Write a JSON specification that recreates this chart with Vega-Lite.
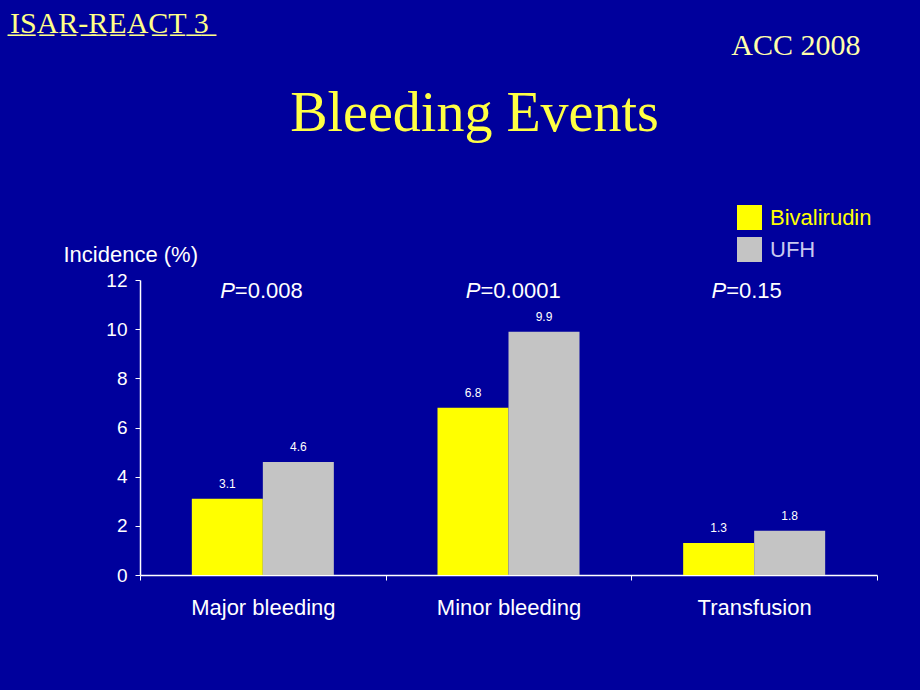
{
  "$schema": "https://vega.github.io/schema/vega-lite/v6.json",
  "background": "#00009c",
  "padding": {"left": 10, "top": 9, "right": 43, "bottom": 74},
  "title": {"text": "I̲S̲A̲R̲-̲R̲E̲A̲C̲T̲ ̲3̲", "anchor": "start", "font": "Liberation Serif", "fontSize": 30, "fontWeight": "normal", "color": "#ffff88", "dx": -53, "offset": -8},
  "datasets": {
    "bars": [
      {"category": "Major bleeding", "group": "Bivalirudin", "value": 3.1},
      {"category": "Major bleeding", "group": "UFH", "value": 4.6},
      {"category": "Minor bleeding", "group": "Bivalirudin", "value": 6.8},
      {"category": "Minor bleeding", "group": "UFH", "value": 9.9},
      {"category": "Transfusion", "group": "Bivalirudin", "value": 1.3},
      {"category": "Transfusion", "group": "UFH", "value": 1.8}
    ],
    "pvals": [
      {"category": "Major bleeding", "p": "P", "rest": "=0.008"},
      {"category": "Minor bleeding", "p": "P", "rest": "=0.0001"},
      {"category": "Transfusion", "p": "P", "rest": "=0.15"}
    ]
  },
  "vconcat": [
    {
      "title": {"text": "ACC 2008", "anchor": "end", "font": "Liberation Serif", "fontSize": 30, "fontWeight": "normal", "color": "#ffffaa", "dx": -17, "offset": 25},
      "vconcat": [
        {
          "title": {"text": "Bleeding Events", "anchor": "middle", "font": "Liberation Serif", "fontSize": 56, "fontWeight": "normal", "color": "#ffff44", "offset": 100, "dx": -34},
          "width": 737,
          "height": 295,
          "layer": [
            {
              "data": {"name": "bars"},
              "mark": {"type": "bar"},
              "encoding": {
                "x": {"field": "category", "type": "nominal", "sort": null,
                  "scale": {"paddingInner": 0, "paddingOuter": 0},
                  "axis": {"title": null, "labelAngle": 0, "labelFont": "Liberation Sans", "labelFontSize": 22, "labelColor": "#ffffff", "labelPadding": 17, "domainColor": "#ffffff", "domainWidth": 1.5, "tickColor": "#ffffff", "tickSize": 5, "tickBand": "extent", "grid": false}},
                "xOffset": {"field": "group", "type": "nominal", "sort": ["Bivalirudin", "UFH"], "scale": {"paddingInner": 0, "paddingOuter": 0.73}},
                "y": {"field": "value", "type": "quantitative",
                  "scale": {"domain": [0, 12], "nice": false},
                  "axis": {"title": "Incidence (%)", "values": [0, 2, 4, 6, 8, 10, 12], "grid": false, "labelFont": "Liberation Sans", "labelFontSize": 19, "labelColor": "#ffffff", "labelPadding": 8, "domainColor": "#ffffff", "domainWidth": 1.5, "tickColor": "#ffffff", "tickSize": 5,
                    "titleAngle": 0, "titleX": -77, "titleY": -26, "titleAlign": "left", "titleBaseline": "middle", "titleFont": "Liberation Sans", "titleFontSize": 22, "titleFontWeight": "normal", "titleColor": "#ffffff"}},
                "color": {"field": "group", "type": "nominal",
                  "scale": {"domain": ["Bivalirudin", "UFH"], "range": ["#ffff00", "#c4c4c4"]},
                  "legend": {"title": null, "orient": "none", "legendX": 597, "legendY": -75, "symbolType": "square", "symbolSize": 625, "symbolStrokeWidth": 0, "symbolOpacity": 1, "labelFont": "Liberation Sans", "labelFontSize": 22, "labelOffset": 8, "rowPadding": 7,
                    "encode": {"labels": {"update": {"fill": [{"test": "datum.value === 'UFH'", "value": "#c8c8f0"}, {"value": "#ffff00"}]}}}}}
              }
            },
            {
              "data": {"name": "bars"},
              "mark": {"type": "text", "font": "Liberation Sans", "fontSize": 12, "color": "#ffffff", "baseline": "bottom", "dy": -8},
              "encoding": {
                "x": {"field": "category", "type": "nominal", "sort": null},
                "xOffset": {"field": "group", "type": "nominal", "sort": ["Bivalirudin", "UFH"]},
                "y": {"field": "value", "type": "quantitative"},
                "text": {"field": "value", "type": "quantitative", "format": ".1f"}
              }
            },
            {
              "data": {"name": "pvals"},
              "mark": {"type": "text", "font": "Liberation Sans", "fontSize": 22, "fontStyle": "italic", "color": "#ffffff", "align": "right", "baseline": "middle", "dx": -28},
              "encoding": {
                "x": {"field": "category", "type": "nominal", "sort": null},
                "y": {"datum": 11.55, "type": "quantitative"},
                "text": {"field": "p"}
              }
            },
            {
              "data": {"name": "pvals"},
              "mark": {"type": "text", "font": "Liberation Sans", "fontSize": 22, "color": "#ffffff", "align": "left", "baseline": "middle", "dx": -28},
              "encoding": {
                "x": {"field": "category", "type": "nominal", "sort": null},
                "y": {"datum": 11.55, "type": "quantitative"},
                "text": {"field": "rest"}
              }
            }
          ]
        }
      ]
    }
  ],
  "config": {
    "view": {"stroke": null},
    "concat": {"spacing": 0}
  }
}
